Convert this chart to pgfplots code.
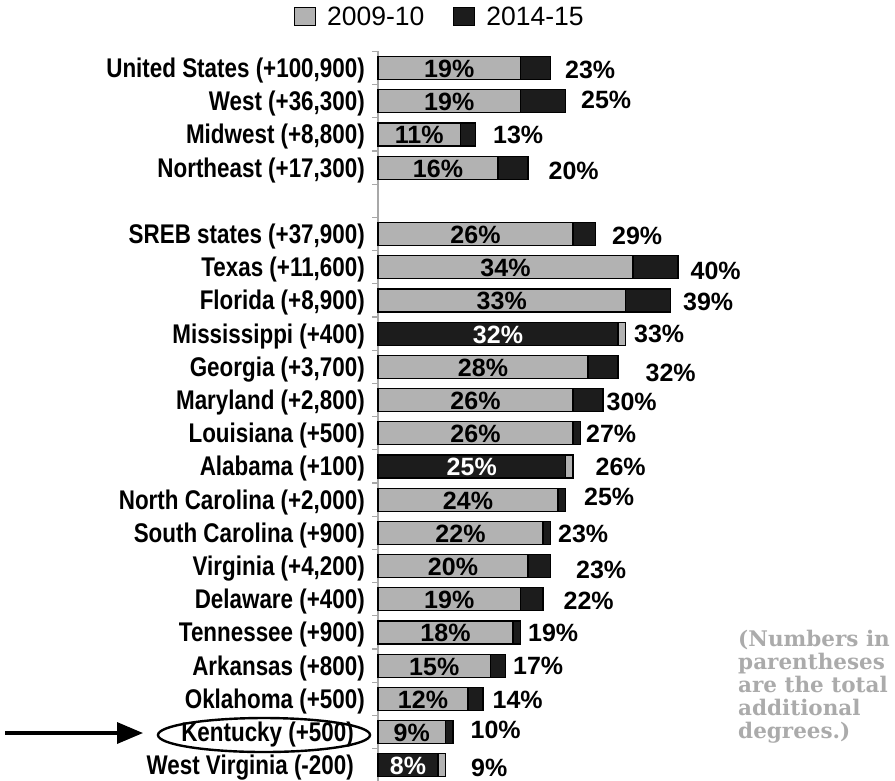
\documentclass[border=0pt]{standalone}
\usepackage{fontspec}
\setmainfont{Liberation Sans}
\newfontfamily\narrowfont{Liberation Sans}[FakeStretch=0.83]
\newfontfamily\notefont{DejaVu Serif}
\usepackage{pgfplots}
\usepackage{pgfplotstable}
\pgfplotsset{compat=1.18}
\usetikzlibrary{arrows.meta}

\definecolor{barGray}{HTML}{B2B2B2}
\definecolor{barBlack}{HTML}{1C1C1C}
\definecolor{axisGray}{HTML}{A8A8A8}
\definecolor{noteGray}{HTML}{ABABAB}

% pos = row (4 is the blank gap), old = 2009-10 (printed inside), new = 2014-15 (printed outside)
% dx, dy = nudges of the outside label, in pt
\pgfplotstableread{
pos old new dx dy
0  19 23 14 -2
1  19 25 15  2
2  11 13 17  0
3  16 20 20 -3
5  26 29 16 -1
6  34 40 12 -3
7  33 39 12 -1
9  28 32 27 -6
10 26 30  3 -1
11 26 27  5  0
13 24 25 18  3
14 22 23  7 -1
15 20 23 25 -3
16 19 22 20 -1
17 18 19  7  0
18 15 17  7  0
19 12 14  9 -1
20  9 10 17  3
}\normalrows

% rows where the front bar is black and the back bar gray
\pgfplotstableread{
pos old new dx dy
8  32 33  8  0
12 25 26 22  0
21  8  9 25 -2
}\swaprows

\pgfplotsset{
  outlbl/.style={
    nodes near coords={\pgfmathprintnumber{\pgfplotspointmeta}\%},
    point meta=explicit,
    visualization depends on={\thisrow{dx} \as \dx},
    visualization depends on={\thisrow{dy} \as \dy},
    every node near coord/.style={anchor=base west, inner sep=0pt,
      xshift=\dx pt, yshift={\dy pt-9pt}, text=black,
      font=\bfseries\fontsize{25}{25}\selectfont}},
  inlbl/.style={
    nodes near coords={\pgfmathprintnumber{\pgfplotspointmeta}\%},
    point meta=explicit,
    visualization depends on={\thisrow{old} \as \ov},
    every node near coord/.style={anchor=base, inner sep=0pt,
      xshift={-3.75pt*\ov}, yshift=-9.5pt, text=#1,
      font=\bfseries\fontsize{25}{25}\selectfont}},
}

\begin{document}
\begin{tikzpicture}
\begin{axis}[
  x=7.5pt, y=33.2pt, y dir=reverse,
  xmin=0, xmax=40, ymin=-0.5, ymax=21.5,
  enlargelimits=false,
  /pgf/number format/assume math mode=true,
  axis y line*=left, axis x line=none,
  xbar, bar shift=0pt, bar width=23pt,
  ytick={0,1,2,3,5,6,...,21},
  yticklabels={{United States (+100,900)},{West (+36,300)},{Midwest (+8,800)},
    {Northeast (+17,300)},{SREB states (+37,900)},{Texas (+11,600)},
    {Florida (+8,900)},{Mississippi (+400)},{Georgia (+3,700)},
    {Maryland (+2,800)},{Louisiana (+500)},{Alabama (+100)},
    {North Carolina (+2,000)},{South Carolina (+900)},{Virginia (+4,200)},
    {Delaware (+400)},{Tennessee (+900)},{Arkansas (+800)},
    {Oklahoma (+500)},{Kentucky (+500)},{West Virginia (-200)}},
  minor ytick={-0.5,0.5,...,21.5},
  major tick length=0pt, minor tick length=6pt, tick align=outside,
  y axis line style={axisGray, line width=1.3pt},
  minor tick style={axisGray, line width=1.3pt},
  yticklabel style={font=\narrowfont\bfseries\fontsize{27}{27}\selectfont,
    inner sep=0pt, yshift=-2.5pt, xshift={(\ticknum>18 ? -24 : -13)*1pt}},
  clip=false,
  legend style={at={(-0.28,1.0475)}, anchor=west, draw=none, fill=none,
    inner sep=0pt, legend columns=2,
    font=\fontsize{26.5}{26.5}\selectfont,
    /tikz/every odd column/.append style={column sep=9pt},
    /tikz/every even column/.append style={column sep=27pt}},
  legend image code/.code={\draw[#1, line width=1pt] (0pt,-9pt) rectangle (21pt,9pt);},
]
% back bars with the outside labels
\addplot[fill=barBlack, draw=black, line width=1.2pt, forget plot, outlbl]
  table[x=new, y=pos, meta=new] {\normalrows};
\addplot[fill=barGray, draw=black, line width=1.2pt, forget plot, outlbl]
  table[x=new, y=pos, meta=new] {\swaprows};
% front bars with the inside labels
\addplot[fill=barGray, draw=black, line width=1.2pt, forget plot, inlbl=black]
  table[x=old, y=pos, meta=old] {\normalrows};
\addplot[fill=barBlack, draw=black, line width=1.2pt, forget plot, inlbl=white]
  table[x=old, y=pos, meta=old] {\swaprows};

\addlegendimage{fill=barGray, draw=black}
\addlegendimage{fill=barBlack, draw=black}
\legend{2009-10, 2014-15}

% Kentucky callout
\draw[line width=2.4pt] (axis cs:-15.2,20.09) ellipse [x radius=106pt, y radius=17pt];
\draw[line width=3.4pt, -{Triangle[length=26pt, width=21pt]}]
  (axis cs:-49.73,20.03) -- (axis cs:-31.33,20.03);

\node[anchor=north west, align=left, inner sep=0pt, text=noteGray,
  font=\notefont\bfseries\fontsize{21.5}{23}\selectfont]
  at (axis cs:48,16.94) {(Numbers in\\parentheses\\are the total\\additional\\degrees.)};

\coordinate (bbtl) at (axis cs:-50.4,-2.048);
\coordinate (bbbr) at (axis cs:68.93,21.446);
\end{axis}
\pgfresetboundingbox
\useasboundingbox (bbtl) rectangle (bbbr);
\end{tikzpicture}
\end{document}
